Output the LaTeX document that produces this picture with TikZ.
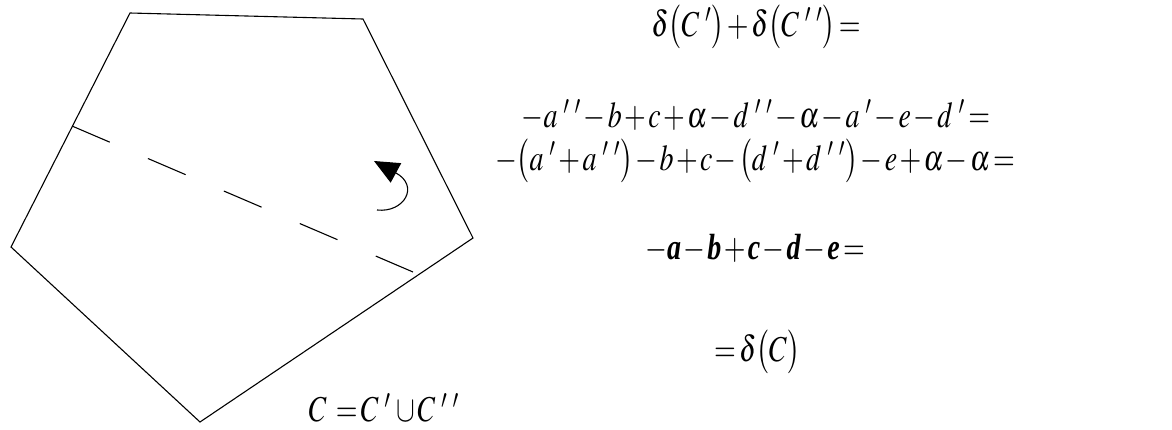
\documentclass[tikz,border=0pt]{standalone}
\usepackage{graphicx}
\usepackage{mathptmx}
\usepackage[no-math]{fontspec}
\setmainfont{Liberation Serif}
\usetikzlibrary{arrows.meta}
\newcommand{\bi}[1]{\textbf{\textit{#1}}}
\newcommand{\pp}{^{\mkern5mu\prime\mkern5mu\prime}}
\newcommand{\po}{^{\mkern5mu\prime}}
\newcommand{\tallmath}[1]{\scalebox{1}[1.3]{$#1$}}
\tikzset{
  edge/.style={line width=0.55pt},
  formula/.style={font=\fontsize{14}{17}\selectfont, inner sep=0pt,
    execute at begin node={\medmuskip=1.5mu\thickmuskip=2mu}}
}
\begin{document}
\begin{tikzpicture}[x=0.5pt,y=-0.5pt]
  \useasboundingbox (0,0) rectangle (1172,429);
  % pentagon C
  \coordinate (p1) at (130,13);
  \coordinate (p2) at (363,19);
  \coordinate (p3) at (473,238);
  \coordinate (p4) at (200,422);
  \coordinate (p5) at (11,247);
  \draw[edge] (p1) -- (p2) -- (p3) -- (p4) -- (p5) -- cycle;

  % cut into C' and C''
  \coordinate (cutL) at (72,126);
  \coordinate (cutR) at (413,272);
  \draw[edge,dash pattern=on 20.5pt off 20.8pt] (cutL) -- (cutR);

  % orientation
  \coordinate (rotS) at (377,210);
  \coordinate (rotE) at (374,161);
  \draw[edge,-{Triangle[length=12.5pt,width=11pt]}]
    (rotS) .. controls (404,213) and (420,186) .. (rotE);

  \node[formula] (union) at (384,408)
    {\tallmath{C\mkern4mu=C\po\mkern2mu\cup C\pp}};

  \node[formula] (sum) at (756,27)
    {\tallmath{\delta\bigl(C\po\bigr)+\delta\bigl(C\pp\bigr)=}};
  \node[formula] (lineA) at (756,115)
    {\tallmath{-a\pp-b+c+\alpha-d\pp-\alpha-a\po-e-d\po=}};
  \node[formula] (lineB) at (755,161)
    {\tallmath{-\bigl(a\po+a\pp\bigr)-b+c-\bigl(d\po+d\pp\bigr)-e+\alpha-\alpha=}};
  \node[formula] (lineC) at (755,248)
    {\tallmath{-\bi{a}-\bi{b}+\bi{c}-\bi{d}-\bi{e}=}};
  \node[formula] (result) at (757,352) {\tallmath{=\delta\bigl(C\bigr)}};
\end{tikzpicture}
\end{document}
